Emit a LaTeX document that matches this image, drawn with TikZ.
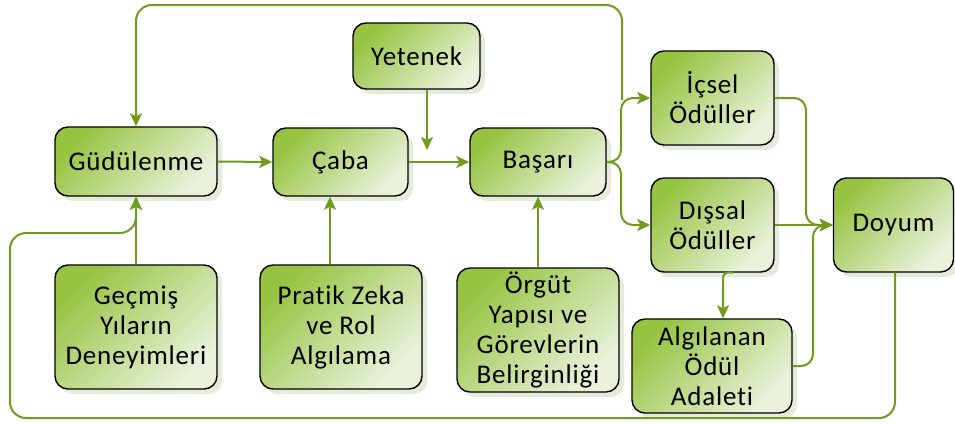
\documentclass[tikz,border=0pt]{standalone}
\usepackage{fontspec}
\setmainfont{Carlito}[LetterSpace=3,Ligatures={NoCommon,NoDiscretionary}]
\usetikzlibrary{arrows.meta,shadows,calc}
\definecolor{lc}{RGB}{112,155,30}
\definecolor{gA}{RGB}{150,196,66}
\definecolor{gM}{RGB}{172,210,94}
\definecolor{gB}{RGB}{234,242,220}
\definecolor{shd}{RGB}{210,222,190}
\tikzset{
  box/.style={draw=black, line width=1.4pt, rounded corners=13pt,
    shading=axis, top color=gA, middle color=gM, bottom color=gB, shading angle=45,
    drop shadow={shadow xshift=5pt, shadow yshift=-5pt, fill=shd, opacity=0.6},
    align=center, inner sep=0pt, font=\fontsize{27}{30}\selectfont},
  conn/.style={draw=lc, line width=2pt, rounded corners=12pt},
  arr/.style={conn, -{Stealth[length=13pt,width=12pt,inset=3pt]}},
}
\begin{document}
\begin{tikzpicture}[x=1pt,y=-1pt]
\useasboundingbox (0,0) rectangle (955,423);
% nodes
\node[box, minimum width=162pt, minimum height=69pt] (gud) at (136,161.5) {Güdülenme};
\node[box, minimum width=135pt, minimum height=68pt] (caba) at (340.5,162) {Çaba};
\node[box, minimum width=127pt, minimum height=66pt] (yet) at (416.5,56) {Yetenek};
\node[box, minimum width=136pt, minimum height=68pt] (bas) at (538,162) {Başarı};
\node[box, minimum width=123pt, minimum height=94pt] (icsel) at (712.5,98) {İçsel\\Ödüller};
\node[box, minimum width=123pt, minimum height=94pt] (dissal) at (712.5,225) {Dışsal\\Ödüller};
\node[box, minimum width=120pt, minimum height=94pt] (doyum) at (893.5,225) {Doyum};
\node[box, minimum width=160pt, minimum height=94pt] (alg) at (712,366) {Algılanan\\Ödül\\Adaleti};
\node[box, minimum width=162pt, minimum height=124pt] (gec) at (136,327) {Geçmiş\\Yıların\\Deneyimleri};
\node[box, minimum width=162pt, minimum height=124pt] (prat) at (341,327) {Pratik Zeka\\ve Rol\\Algılama};
\node[box, minimum width=162pt, minimum height=124pt] (org) at (538,330) {Örgüt\\Yapısı ve\\Görevlerin\\Belirginliği};
% free points
\coordinate (yetend) at (427,150);
\coordinate (loopstart) at (622,100);
% connectors
\draw[arr] (gud.east) -- (caba.west);
\draw[arr] (caba.east) -- (bas.west);
\draw[arr] (yet.south -| yetend) -- (yetend);
\draw[arr] (gec.north) -- (gud.south);
\draw[arr] (prat.north -| 330,0) -- (caba.south -| 330,0);
\draw[arr] (org.north) -- (bas.south);
\draw[arr] (bas.east) -- (621,162) -- (621,98) -- (icsel.west);
\draw[arr] (bas.east) -- (621,162) -- (621,225) -- (dissal.west);
\draw[arr, rounded corners=16pt] (loopstart) -- (622,5) -- (136,5) -- (gud.north);
\draw[arr] (icsel.east) -- (806,98) -- (806,225) -- (doyum.west);
\draw[arr] (dissal.east) -- (doyum.west);
\draw[arr] (alg.east) -- (813,366) -- (813,225) -- (doyum.west);
\draw[arr, rounded corners=6pt] (dissal.south -| 733,0) -- (723,272) -- (alg.north -| 723,0);
\draw[arr, rounded corners=16pt] (doyum.south -| 895,0) -- (895,418) -- (10,418) -- (10,233) -- (136,233) -- (gud.south);
\end{tikzpicture}
\end{document}
